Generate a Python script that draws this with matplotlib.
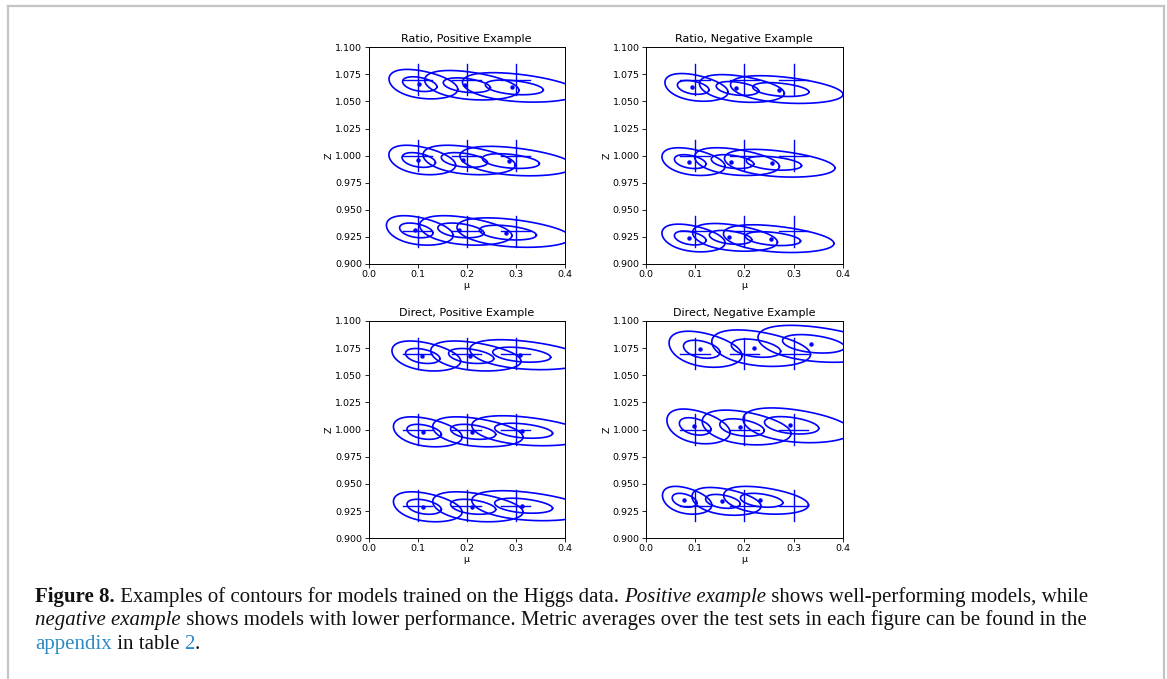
import numpy as np
import matplotlib
matplotlib.use("Agg")
import matplotlib.pyplot as plt
from matplotlib.lines import Line2D

# ---------------- data ----------------
true_mu = [0.1, 0.2, 0.3]
true_z = [1.07, 1.0, 0.93]
titles = ["Ratio, Positive Example", "Ratio, Negative Example",
          "Direct, Positive Example", "Direct, Negative Example"]
xticks = [0.0, 0.1, 0.2, 0.3, 0.4]
yticks = [0.900, 0.925, 0.950, 0.975, 1.000, 1.025, 1.050, 1.075, 1.100]

# estimated centres (rows: Z = 1.07, 1.00, 0.93; cols: mu = 0.1, 0.2, 0.3)
ratio_pos_mu = [[0.102, 0.197, 0.293], [0.100, 0.192, 0.286], [0.095, 0.185, 0.280]]
ratio_pos_z = [[1.066, 1.065, 1.063], [0.996, 0.996, 0.995], [0.931, 0.931, 0.929]]
ratio_pos_smu = [[0.035, 0.048, 0.059], [0.034, 0.047, 0.058], [0.034, 0.047, 0.058]]
ratio_pos_sz = [[0.0068, 0.0068, 0.0068], [0.0068, 0.0068, 0.0068], [0.0068, 0.0068, 0.0068]]

ratio_neg_mu = [[0.094, 0.183, 0.270], [0.088, 0.173, 0.256], [0.088, 0.169, 0.254]]
ratio_neg_z = [[1.063, 1.062, 1.061], [0.9945, 0.9945, 0.993], [0.924, 0.9246, 0.9234]]
ratio_neg_smu = [[0.032, 0.043, 0.057], [0.032, 0.043, 0.056], [0.032, 0.043, 0.056]]
ratio_neg_sz = [[0.0064, 0.0064, 0.0064], [0.0064, 0.0064, 0.0064], [0.0064, 0.0064, 0.0064]]

direct_pos_mu = [[0.108, 0.206, 0.308], [0.111, 0.210, 0.312], [0.111, 0.210, 0.312]]
direct_pos_z = [[1.0678, 1.0678, 1.069], [0.998, 0.998, 0.999], [0.929, 0.929, 0.930]]
direct_pos_smu = [[0.035, 0.046, 0.059], [0.035, 0.046, 0.059], [0.035, 0.046, 0.059]]
direct_pos_sz = [[0.0069, 0.0069, 0.0069], [0.0069, 0.0069, 0.0069], [0.0069, 0.0069, 0.0069]]

direct_neg_mu = [[0.111, 0.220, 0.336], [0.098, 0.192, 0.292], [0.077, 0.154, 0.232]]
direct_neg_z = [[1.074, 1.075, 1.079], [1.003, 1.002, 1.004], [0.935, 0.934, 0.935]]
direct_neg_smu = [[0.037, 0.050, 0.063], [0.032, 0.045, 0.055], [0.025, 0.035, 0.043]]
direct_neg_sz = [[0.0083, 0.0084, 0.0085], [0.0080, 0.0080, 0.0080], [0.0064, 0.0064, 0.0064]]

correlation = -0.35
skew = 0.07
sigma_levels = [1, 2]

panels = [
    (ratio_pos_mu, ratio_pos_z, ratio_pos_smu, ratio_pos_sz),
    (ratio_neg_mu, ratio_neg_z, ratio_neg_smu, ratio_neg_sz),
    (direct_pos_mu, direct_pos_z, direct_pos_smu, direct_pos_sz),
    (direct_neg_mu, direct_neg_z, direct_neg_smu, direct_neg_sz),
]

caption_lines = [
    [("Figure 8.", "bold"), (" Examples of contours for models trained on the Higgs data. ", "normal"),
     ("Positive example", "italic"), (" shows well-performing models, while", "normal")],
    [("negative example", "italic"),
     (" shows models with lower performance. Metric averages over the test sets in each figure can be found in the", "normal")],
    [("appendix", "link"), (" in table ", "normal"), ("2", "link"), (".", "normal")],
]

# ---------------- figure ----------------
W, H = 1167, 679
fig = plt.figure(figsize=(W / 100, H / 100), dpi=100)

def ax_rect(x0, y0, x1, y1):
    return [x0 / W, 1 - y1 / H, (x1 - x0) / W, (y1 - y0) / H]

rects = [ax_rect(368.5, 47.3, 564.8, 264.0), ax_rect(645.7, 47.3, 843.0, 264.0),
         ax_rect(368.5, 321.0, 564.8, 538.3), ax_rect(645.7, 321.0, 843.0, 538.3)]

blue = "#0000ff"
t = np.linspace(0, 2 * np.pi, 400)
for rect, title, (pmu, pz, psmu, psz) in zip(rects, titles, panels):
    ax = fig.add_axes(rect)
    for i, zt in enumerate(true_z):
        for j, mt in enumerate(true_mu):
            ax.plot([mt - 0.03, mt + 0.03], [zt, zt], color=blue, lw=1.0)
            ax.plot([mt, mt], [zt - 0.0143, zt + 0.0143], color=blue, lw=1.0)
            cx, cz, smu, sz = pmu[i][j], pz[i][j], psmu[i][j], psz[i][j]
            for k in sigma_levels:
                c = np.cos(t)
                xs = cx + k * smu * (c + skew * k * c ** 2)
                zs = cz + k * sz * (correlation * c + np.sqrt(1 - correlation ** 2) * np.sin(t))
                ax.plot(xs, zs, color=blue, lw=1.2)
            ax.plot([cx], [cz], marker="o", ms=2.2, color=blue, mec=blue)
    ax.set_xlim(0.0, 0.4)
    ax.set_ylim(0.9, 1.1)
    ax.set_xticks(xticks)
    ax.set_yticks(yticks)
    ax.set_xticklabels([f"{v:.1f}" for v in xticks])
    ax.set_yticklabels([f"{v:.3f}" for v in yticks])
    ax.tick_params(labelsize=6.8, length=2.6, width=0.6, pad=1.8)
    for s in ax.spines.values():
        s.set_linewidth(0.7)
    ax.set_title(title, fontsize=8, pad=3.5)
    ax.set_xlabel("μ", fontsize=6.8, labelpad=1.5)
    ax.set_ylabel("Z", fontsize=6.8, labelpad=1.0)

# frame around the figure block
gray = "#c4c4c4"
fig.add_artist(Line2D([7.5 / W, 7.5 / W], [0, 1 - 5.5 / H], color=gray, lw=1.6, transform=fig.transFigure))
fig.add_artist(Line2D([7.5 / W, 1163.5 / W], [1 - 5.5 / H, 1 - 5.5 / H], color=gray, lw=1.6, transform=fig.transFigure))
fig.add_artist(Line2D([1163.5 / W, 1163.5 / W], [0, 1 - 5.5 / H], color=gray, lw=1.6, transform=fig.transFigure))

# caption with mixed styles
renderer = fig.canvas.get_renderer()
styles = {
    "bold": dict(weight="bold", style="normal", color="#111111"),
    "normal": dict(weight="normal", style="normal", color="#111111"),
    "italic": dict(weight="normal", style="italic", color="#111111"),
    "link": dict(weight="normal", style="normal", color="#2b8ac6"),
}
cap_size = 15.0
baselines = [602, 625.5, 649]
for line, yb in zip(caption_lines, baselines):
    x = 35.0
    for txt, st in line:
        tt = fig.text(x / W, 1 - yb / H, txt, fontsize=cap_size, family="Liberation Serif",
                      va="baseline", ha="left", **styles[st])
        bb = tt.get_window_extent(renderer)
        x += bb.width

fig.savefig("out.png", dpi=100)
